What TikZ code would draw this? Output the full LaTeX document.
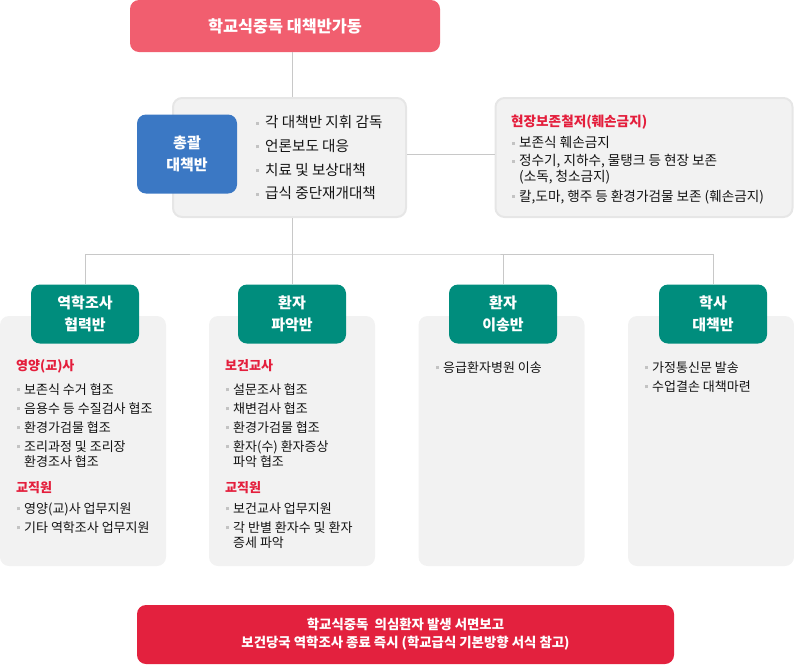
\documentclass[tikz,border=0pt]{standalone}
\usepackage{fontspec}
\setmainfont{Noto Sans CJK KR}
\usepackage{tikz}
\usetikzlibrary{positioning}
\definecolor{alarmred}{RGB}{241,94,111}
\definecolor{reportred}{RGB}{227,33,62}
\definecolor{headred}{RGB}{228,30,60}
\definecolor{chiefblue}{RGB}{59,120,196}
\definecolor{teamgreen}{RGB}{0,141,125}
\definecolor{panelgray}{RGB}{242,242,242}
\definecolor{rimgray}{RGB}{230,230,230}
\definecolor{linegray}{RGB}{200,200,200}
\definecolor{dotgray}{RGB}{195,195,195}
\definecolor{textgray}{RGB}{20,20,20}
\newcommand{\itm}[1][8pt]{\makebox[#1][l]{\hspace{0.5pt}\textcolor{dotgray}{\rule[3.2pt]{3pt}{3pt}}}}
\newcommand{\cnt}{\hspace*{8pt}}
\newcommand{\hd}[1]{\textcolor{headred}{\bfseries #1}}

\begin{document}
\begin{tikzpicture}[x=1pt,y=-1pt,
  panel/.style={rounded corners=9pt,fill=panelgray,inner sep=0pt},
  rim panel/.style={panel,draw=rimgray,line width=2pt},
  box node/.style={rounded corners=9pt,text=white,align=center,inner sep=0pt,font=\bfseries\fontsize{15}{21.5}\selectfont},
  team node/.style={box node,fill=teamgreen,minimum width=108pt,minimum height=59pt},
  list/.style={anchor=north west,inner sep=0pt,align=left,text=textgray,font=\fontsize{13}{15}\selectfont},
  conn/.style={draw=linegray,line width=1pt}]

  \useasboundingbox (0,0) rectangle (794,665);

  \node[box node,fill=alarmred,minimum width=310pt,minimum height=52pt,font=\bfseries\fontsize{16.3}{20}\selectfont] (alarm) at (285,26) {학교식중독 대책반가동};

  \node[rim panel,minimum width=233pt,minimum height=119pt] (gen) at (289.5,157.5) {};
  \node[rim panel,minimum width=297pt,minimum height=119pt] (site) at (644,157.5) {};
  \node[box node,fill=chiefblue,minimum width=100pt,minimum height=79pt] (chief) at (187,154) {총괄\\대책반};
  \node[list,font=\fontsize{14.6}{23.7}\selectfont] (duty) at (255,115.5) {\itm[10pt]각 대책반 지휘 감독\\ \itm[10pt]언론보도 대응\\ \itm[10pt]치료 및 보상대책\\ \itm[10pt]급식 중단재개대책};
  \node[list,font=\fontsize{13.6}{15.2}\selectfont] (keep) at (511,114.5) {\hd{현장보존철저(훼손금지)}\\[6.5pt] \itm 보존식 훼손금지\\[2.8pt] \itm 정수기, 지하수, 물탱크 등 현장 보존\\ \cnt(소독, 청소금지)\\[4.8pt] \itm 칼,도마, 행주 등 환경가검물 보존 (훼손금지)};

  \node[panel,minimum width=166pt,minimum height=250pt] (p1) at (83,441) {};
  \node[panel,minimum width=166pt,minimum height=250pt] (p2) at (292,441) {};
  \node[panel,minimum width=166pt,minimum height=250pt] (p3) at (501.5,441) {};
  \node[panel,minimum width=166pt,minimum height=250pt] (p4) at (711,441) {};

  \node[team node] (t1) at (85,314) {역학조사\\협력반};
  \node[team node] (t2) at (292,314) {환자\\파악반};
  \node[team node] (t3) at (503,314) {환자\\이송반};
  \node[team node] (t4) at (713,314) {학사\\대책반};

  \coordinate (trunk) at (292,254);
  \draw[conn] (alarm.south -| trunk) -- (gen.north -| trunk);
  \draw[conn] (gen.south -| trunk) -- (trunk);
  \draw[conn] (gen.east |- 0,154) -- (site.west |- 0,154);
  \draw[conn] (t1.north) |- (trunk) -| (t4.north);
  \draw[conn] (trunk) -- (t2.north);
  \draw[conn] (trunk -| t3.north) -- (t3.north);

  \node[list] (l1) at (16,359.5) {\hd{영양(교)사}\\[9pt] \itm 보존식 수거 협조\\[4pt] \itm 음용수 등 수질검사 협조\\[4pt] \itm 환경가검물 협조\\[4pt] \itm 조리과정 및 조리장\\ \cnt 환경조사 협조\\[11pt] \hd{교직원}\\[6pt] \itm 영양(교)사 업무지원\\[4pt] \itm 기타 역학조사 업무지원};
  \node[list] (l2) at (225,359.5) {\hd{보건교사}\\[9pt] \itm 설문조사 협조\\[4pt] \itm 채변검사 협조\\[4pt] \itm 환경가검물 협조\\[4pt] \itm 환자(수) 환자증상\\ \cnt 파악 협조\\[11pt] \hd{교직원}\\[6pt] \itm 보건교사 업무지원\\[4pt] \itm 각 반별 환자수 및 환자\\ \cnt 증세 파악};
  \node[list] (l3) at (435,361.5) {\itm 응급환자병원 이송};
  \node[list] (l4) at (644,361.5) {\itm 가정통신문 발송\\[4pt] \itm 수업결손 대책마련};

  \node[box node,fill=reportred,minimum width=537pt,minimum height=59pt,font=\bfseries\fontsize{13.4}{18}\selectfont] (report) at (405.5,634.5) {학교식중독\ \ 의심환자 발생 서면보고\\보건당국 역학조사 종료 즉시 (학교급식 기본방향 서식 참고)};
\end{tikzpicture}
\end{document}
